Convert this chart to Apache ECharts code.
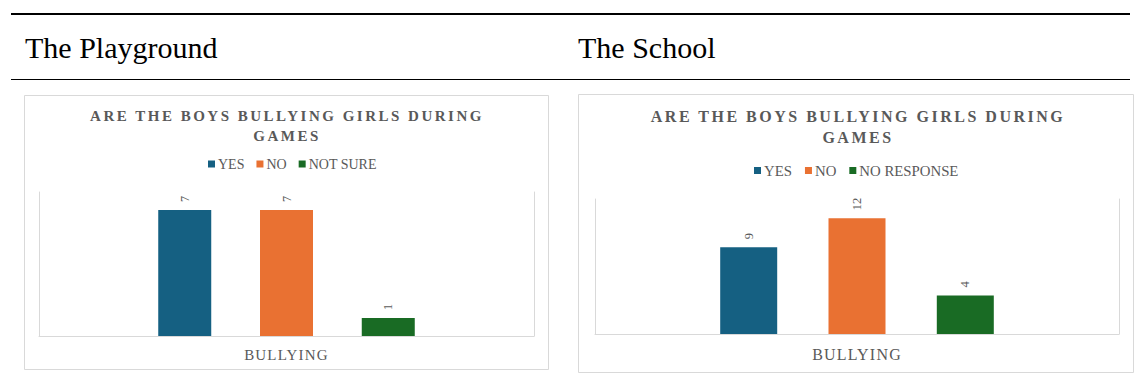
<!DOCTYPE html>
<html>
<head>
<meta charset="utf-8">
<script src="https://cdn.jsdelivr.net/npm/echarts@6/dist/echarts.min.js"></script>
<style>
  html, body { margin: 0; padding: 0; background: #fff; }
  #chart { width: 1140px; height: 381px; }
  /* spaced-out caps for the chart titles and the category name */
  #chart text[style*="bold"] { letter-spacing: 2.5px; }
  #chart text[style*="15px"]:not([style*="bold"]),
  #chart text[style*="16px"]:not([style*="bold"]) { letter-spacing: 1.2px; }
</style>
</head>
<body>
<div id="chart"></div>
<script>
// Panel headings
const headers = ['The Playground', 'The School'];
const chartTitle = 'ARE THE BOYS BULLYING GIRLS DURING\nGAMES';
const categories = ['BULLYING'];

// Playground responses
const playgroundNames = ['YES', 'NO', 'NOT SURE'];
const playgroundValues = [7, 7, 1];
const playgroundMax = 8;

// School responses
const schoolNames = ['YES', 'NO', 'NO RESPONSE'];
const schoolValues = [9, 12, 4];
const schoolMax = 14;

const colors = ['#156082', '#E97132', '#196B24'];
const FONT = "'Liberation Serif', 'Times New Roman', serif";
const TEXT = '#595959';
const LINE = '#d9d9d9';

function panelSeries(names, values, idx, barWidth, barGap, labelSize) {
  return names.map((name, i) => ({
    type: 'bar',
    name: name,
    xAxisIndex: idx,
    yAxisIndex: idx * 2,
    data: [values[i]],
    barWidth: barWidth,
    barGap: barGap,
    itemStyle: { color: colors[i] },
    label: {
      show: true,
      position: 'top',
      rotate: 90,
      align: 'left',
      verticalAlign: 'middle',
      distance: 8,
      color: TEXT,
      fontSize: labelSize,
      fontFamily: FONT
    }
  }));
}

function xAxis(idx, nameSize, margin) {
  return {
    type: 'category',
    gridIndex: idx,
    data: categories,
    axisTick: { show: false },
    axisLine: { lineStyle: { color: LINE, width: 1 } },
    axisLabel: { color: TEXT, fontSize: nameSize, fontFamily: FONT, margin: margin }
  };
}

function yAxes(idx, max) {
  const base = {
    type: 'value',
    gridIndex: idx,
    min: 0,
    axisLabel: { show: false },
    axisTick: { show: false },
    splitLine: { show: false },
    axisLine: { show: true, lineStyle: { color: LINE, width: 1 } }
  };
  return [
    Object.assign({}, base, { max: max, position: 'left' }),
    Object.assign({}, base, { max: max, position: 'right' })
  ];
}

const chart = echarts.init(document.getElementById('chart'), null, { renderer: 'svg' });

chart.setOption({
  animation: false,
  backgroundColor: '#ffffff',
  textStyle: { fontFamily: FONT },
  grid: [
    { left: 39, top: 192, width: 495, height: 144 },
    { left: 595, top: 199, width: 524, height: 135 }
  ],
  xAxis: [xAxis(0, 15, 11), xAxis(1, 16, 12)],
  yAxis: yAxes(0, playgroundMax).concat(yAxes(1, schoolMax)),
  legend: [
    {
      data: playgroundNames,
      left: 203, top: 152,
      itemWidth: 7, itemHeight: 7, itemGap: 12,
      icon: 'rect',
      textStyle: { color: TEXT, fontSize: 14, fontFamily: FONT, padding: [0, 0, 0, -2] }
    },
    {
      data: schoolNames,
      left: 749, top: 158,
      itemWidth: 7, itemHeight: 7, itemGap: 13,
      icon: 'rect',
      textStyle: { color: TEXT, fontSize: 14.8, fontFamily: FONT, padding: [0, 0, 0, -2] }
    }
  ],
  graphic: [
    // header rules
    { type: 'line', shape: { x1: 11, y1: 14, x2: 1130, y2: 14 }, style: { stroke: '#000', lineWidth: 2 } },
    { type: 'line', shape: { x1: 11, y1: 79.5, x2: 1130, y2: 79.5 }, style: { stroke: '#000', lineWidth: 1 } },
    // header text
    { type: 'text', x: 25, y: 47, style: { text: headers[0], font: "30px " + FONT, fill: '#000', verticalAlign: 'middle' } },
    { type: 'text', x: 578, y: 47, style: { text: headers[1], font: "30px " + FONT, fill: '#000', verticalAlign: 'middle' } },
    // chart frames
    { type: 'rect', shape: { x: 24.5, y: 95.5, width: 524, height: 274 }, style: { fill: 'none', stroke: LINE, lineWidth: 1 }, z: -1 },
    { type: 'rect', shape: { x: 578.5, y: 94.5, width: 555, height: 278 }, style: { fill: 'none', stroke: LINE, lineWidth: 1 }, z: -1 },
    // chart titles
    { type: 'text', x: 287, y: 125.5, style: { text: chartTitle, font: "bold 15px " + FONT, fill: TEXT, align: 'center', verticalAlign: 'middle', lineHeight: 20 } },
    { type: 'text', x: 858, y: 127, style: { text: chartTitle, font: "bold 16px " + FONT, fill: TEXT, align: 'center', verticalAlign: 'middle', lineHeight: 21 } }
  ].map(g => Object.assign({ silent: true }, g)),
  series: panelSeries(playgroundNames, playgroundValues, 0, 53, '92%', 12)
    .concat(panelSeries(schoolNames, schoolValues, 1, 57, '90%', 12.5))
});
</script>
</body>
</html>
